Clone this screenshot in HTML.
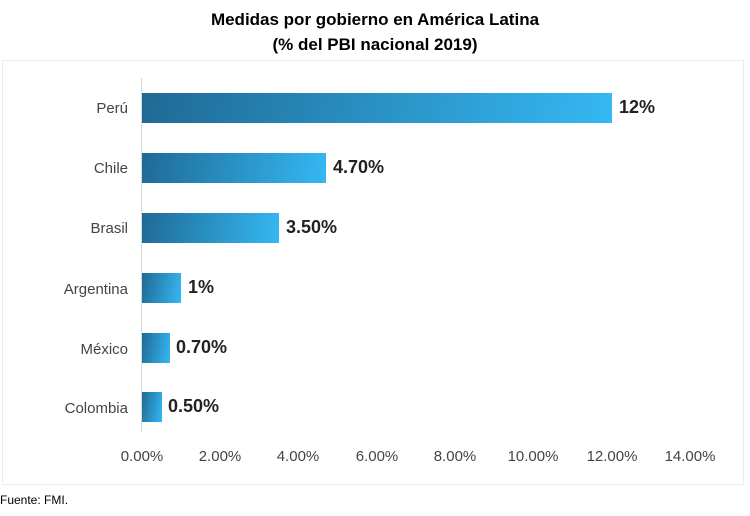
<!DOCTYPE html>
<html><head><style>
body{margin:0;width:750px;height:516px;background:#fff;position:relative;overflow:hidden;font-family:"Liberation Sans",sans-serif}
.t{position:absolute;left:0;width:750px;text-align:center;font-weight:bold;font-size:17px;color:#000}
.box{position:absolute;left:2px;top:60px;width:742px;height:425px;border:1px solid #ececec;box-sizing:border-box}
.ax{position:absolute;left:141px;top:78px;width:1px;height:354px;background:#d8d8d8}
.lab{position:absolute;width:128px;left:0;text-align:right;font-size:15px;color:#444}
.bar{position:absolute;left:142px;height:30px;background:linear-gradient(100deg,#1f6a95,#35b8f3)}
.v{position:absolute;font-weight:bold;font-size:18px;color:#222}
.tk{position:absolute;top:448px;width:70px;text-align:center;font-size:15px;color:#444}
</style></head><body>
<div class="t" style="top:10px">Medidas por gobierno en América Latina</div>
<div class="t" style="top:35px">(% del PBI nacional 2019)</div>
<div class="box"></div>
<div class="ax"></div>
<div class="lab" style="top:100px">Perú</div>
<div class="lab" style="top:160px">Chile</div>
<div class="lab" style="top:220px">Brasil</div>
<div class="lab" style="top:281px">Argentina</div>
<div class="lab" style="top:341px">México</div>
<div class="lab" style="top:400px">Colombia</div>
<div class="bar" style="top:93px;width:470px"></div>
<div class="bar" style="top:153px;width:184px"></div>
<div class="bar" style="top:213px;width:137px"></div>
<div class="bar" style="top:273px;width:39px"></div>
<div class="bar" style="top:333px;width:28px"></div>
<div class="bar" style="top:392px;width:20px"></div>
<div class="v" style="left:619px;top:97px">12%</div>
<div class="v" style="left:333px;top:157px">4.70%</div>
<div class="v" style="left:286px;top:217px">3.50%</div>
<div class="v" style="left:188px;top:277px">1%</div>
<div class="v" style="left:176px;top:337px">0.70%</div>
<div class="v" style="left:168px;top:396px">0.50%</div>
<div class="tk" style="left:107px">0.00%</div>
<div class="tk" style="left:185px">2.00%</div>
<div class="tk" style="left:263px">4.00%</div>
<div class="tk" style="left:342px">6.00%</div>
<div class="tk" style="left:420px">8.00%</div>
<div class="tk" style="left:498px">10.00%</div>
<div class="tk" style="left:577px">12.00%</div>
<div class="tk" style="left:655px">14.00%</div>
<div style="position:absolute;left:0;top:493px;font-size:12px;color:#000">Fuente: FMI.</div>
</body></html>
